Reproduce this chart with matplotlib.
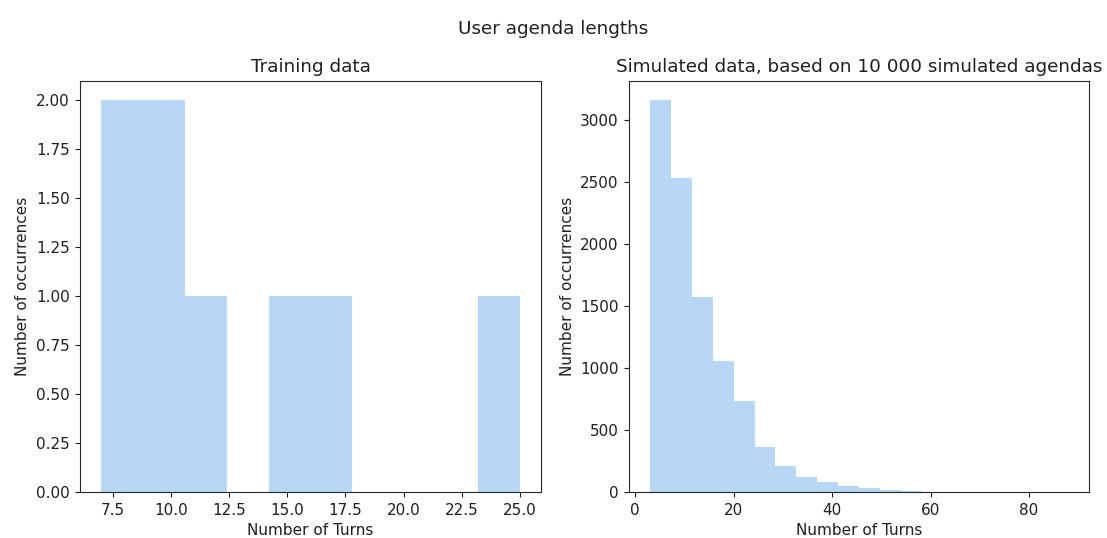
import numpy as np
import matplotlib
matplotlib.use("Agg")
import matplotlib.pyplot as plt

# Agenda lengths (number of turns) observed in the training dialogues
training_lengths = [7, 8, 9, 10, 12, 15, 17, 25]

# Histogram of 10 000 simulated agendas: 20 equal-width bins between the
# shortest and longest simulated agenda
sim_min_turns = 3
sim_max_turns = 88
sim_counts = [3160, 2535, 1577, 1055, 734, 362, 211, 122, 85, 50,
              35, 22, 9, 3, 2, 1, 0, 0, 0, 1]

bar_color = "#b8d6f5"

plt.rcParams.update({
    "font.size": 11,
    "xtick.labelsize": 11,
    "ytick.labelsize": 11,
    "axes.labelsize": 11,
    "axes.titlesize": 13.2,
    "figure.titlesize": 13.2,
    "text.color": "#1f1f1f",
    "axes.labelcolor": "#1f1f1f",
    "xtick.color": "#1f1f1f",
    "ytick.color": "#1f1f1f",
    "axes.edgecolor": "#262626",
    "xtick.major.size": 3.9,
    "ytick.major.size": 3.9,
})

fig = plt.figure(figsize=(11.07, 5.38), dpi=100)
ax1 = fig.add_axes([80 / 1107, 1 - 492.3 / 538, (541 - 80) / 1107, (492.3 - 80.7) / 538])
ax2 = fig.add_axes([629 / 1107, 1 - 492.3 / 538, (1089.3 - 629) / 1107, (492.3 - 80.7) / 538])

ax1.hist(training_lengths, bins=10, color=bar_color)
ax1.set_title("Training data")
ax1.set_xlabel("Number of Turns")
ax1.set_ylabel("Number of occurrences")

edges = np.linspace(sim_min_turns, sim_max_turns, len(sim_counts) + 1)
ax2.hist(edges[:-1], bins=edges, weights=sim_counts, color=bar_color)
ax2.set_title("Simulated data, based on 10 000 simulated agendas")
ax2.set_xlabel("Number of Turns")
ax2.set_ylabel("Number of occurrences")

fig.suptitle("User agenda lengths", y=0.963)

fig.savefig("out.png", dpi=100)
